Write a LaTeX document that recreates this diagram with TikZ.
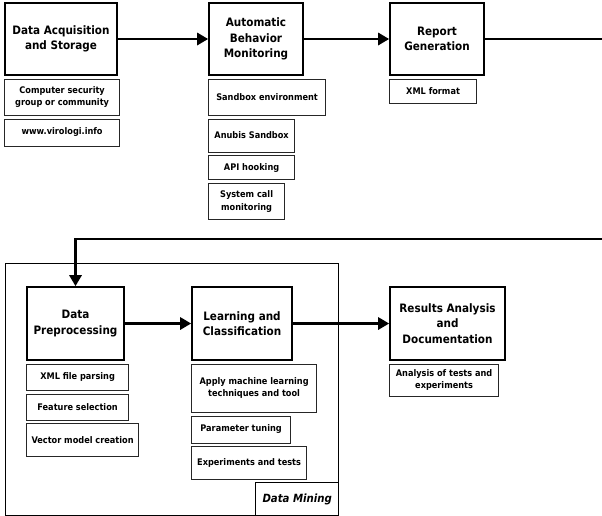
\documentclass[tikz,border=0pt]{standalone}
\usepackage{fontspec}
\setmainfont{DejaVu Sans Condensed}
\usetikzlibrary{arrows.meta, positioning}
\tikzset{
  stage/.style={shape=rectangle, draw=black, line width=1.6pt, minimum height=72pt, align=center, inner sep=0pt, font=\bfseries\fontsize{11.6}{15.2}\selectfont},
  detail/.style={shape=rectangle, draw=black!85, line width=0.8pt, align=center, inner sep=0pt, font=\bfseries\fontsize{9.1}{12.3}\selectfont},
  flow/.style={-{Triangle[length=11pt, width=12pt]}, line width=2.8pt},
}

\begin{document}
\begin{tikzpicture}[x=1pt, y=-1pt]
    \useasboundingbox (0,0) rectangle (602,515);
    \node[stage, minimum width=112pt] (a) at (61,39) {Data Acquisition\\and Storage};
    \node[detail, minimum width=115pt, minimum height=36pt, below right = 3pt and 0pt of a.south west] (a1) {Computer security\\group or community};
    \node[detail, minimum width=115pt, minimum height=27pt, below right = 3pt and 0pt of a1.south west] (a2) {www.virologi.info};

    \node[stage, minimum width=94pt] (b) at (256,39) {Automatic\\Behavior\\Monitoring};
    \node[detail, minimum width=117pt, minimum height=36pt, below right = 3pt and 0pt of b.south west] (b1) {Sandbox environment};
    \node[detail, minimum width=86pt, minimum height=33pt, below right = 3pt and 0pt of b1.south west] (b2) {Anubis Sandbox};
    \node[detail, minimum width=86pt, minimum height=24pt, below right = 3pt and 0pt of b2.south west] (b3) {API hooking};
    \node[detail, minimum width=76pt, minimum height=36pt, below right = 3pt and 0pt of b3.south west] (b4) {System call\\monitoring};

    \node[stage, minimum width=94pt] (c) at (437,39) {Report\\Generation};
    \node[detail, minimum width=87pt, minimum height=24pt, below right = 3pt and 0pt of c.south west] (c1) {XML format};

    % data mining part
    \node[shape=rectangle, draw=black, line width=1.4pt, minimum width=333pt, minimum height=252pt, anchor=north west] (dm) at (5,263) {};
    \node[shape=rectangle, draw=black, line width=1.4pt, minimum width=83pt, minimum height=33pt, anchor=south east, font=\bfseries\itshape\fontsize{11.3}{13}\selectfont] (dml) at (dm.south east) {Data Mining};

    \node[stage, minimum width=97pt, minimum height=73pt] (d) at (75.5,323.5) {Data\\Preprocessing};
    \node[detail, minimum width=102pt, minimum height=26pt, below right = 3pt and 0pt of d.south west] (d1) {XML file parsing};
    \node[detail, minimum width=102pt, minimum height=26pt, below right = 3pt and 0pt of d1.south west] (d2) {Feature selection};
    \node[detail, minimum width=112pt, minimum height=33pt, below right = 3pt and 0pt of d2.south west] (d3) {Vector model creation};

    \node[stage, minimum width=100pt, minimum height=73pt] (e) at (242,323.5) {Learning and\\Classification};
    \node[detail, minimum width=125pt, minimum height=48pt, below right = 3pt and 0pt of e.south west] (e1) {Apply machine learning\\techniques and tool};
    \node[detail, minimum width=99pt, minimum height=27pt, below right = 3pt and 0pt of e1.south west] (e2) {Parameter tuning};
    \node[detail, minimum width=115pt, minimum height=33pt, below right = 3pt and 0pt of e2.south west] (e3) {Experiments and tests};

    \node[stage, minimum width=115pt, minimum height=73pt] (f) at (447.5,323.5) {Results Analysis\\and\\Documentation};
    \node[detail, minimum width=109pt, minimum height=32pt, below right = 3pt and 0pt of f.south west] (f1) {Analysis of tests and\\experiments};

    \coordinate (turn) at (603,239);
    \draw[flow] (a) -- (b);
    \draw[flow] (b) -- (c);
    \draw[flow] (c.east) -| (turn) -| (d.north);
    \draw[flow] (d) -- (e);
    \draw[flow] (e) -- (f);
\end{tikzpicture}
\end{document}
